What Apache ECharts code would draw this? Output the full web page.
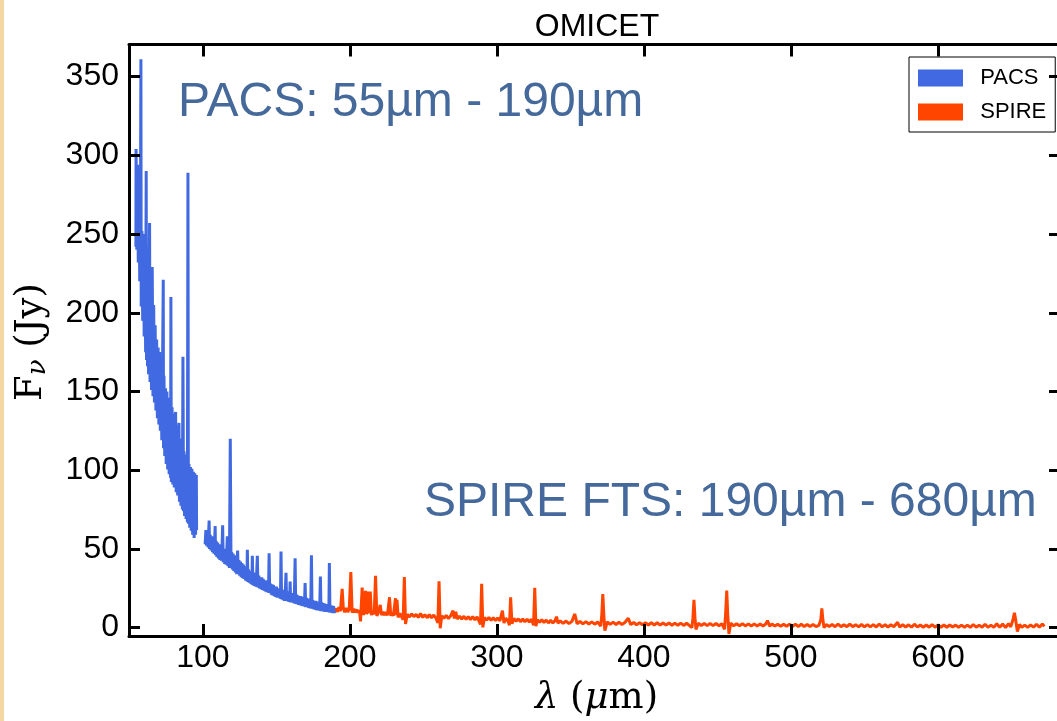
<!DOCTYPE html>
<html><head><meta charset="utf-8">
<script src="https://cdn.jsdelivr.net/npm/echarts@6/dist/echarts.min.js"></script>
<style>html,body{margin:0;padding:0;background:#fff}#c{width:1057px;height:721px}</style>
</head><body><div id="c"></div>
<script>
const chartTitle = 'OMICET';
const seriesNames = ['PACS', 'SPIRE'];
const seriesColors = ['#4169E1', '#FF4500'];
const xTicks = [100, 200, 300, 400, 500, 600];
const yTicks = [0, 50, 100, 150, 200, 250, 300, 350];
const xRange = [49.7, 683];
const yRange = [-5.3, 370.4];
const annotations = ['PACS: 55µm - 190µm', 'SPIRE FTS: 190µm - 680µm'];

// PACS spectrum [wavelength µm, flux Jy]
const pacsSpectrum = [
[54.4,242],[54.5,304],[55.0,240],[55.5,294],[56.0,232],[56.5,285],[57.0,220],[57.5,262],[57.8,361],[58.0,204],[58.5,252],[59.0,195],[59.5,250],[60.0,185],[60.5,244],[61.0,175],[61.4,290],[61.6,170],[62.0,238],[62.3,166],[62.7,230],[63.0,161],[63.4,226],[63.7,257],[64.0,156],[64.5,218],[65.0,151],[65.5,229],[66.0,147],[66.5,205],[67.0,143],[67.5,192],[68.0,138],[68.5,183],[69.0,133],[69.5,178],[70.0,129],[70.5,175],[71.0,125],[71.5,168],[72.0,119],[72.5,163],[73.0,221],[73.2,114],[73.5,160],[74.0,109],[74.5,152],[75.0,104],[75.5,150],[76.0,100.5],[76.5,146],[77.0,97.5],[77.5,143],[78.0,95],[78.2,210],[78.5,92.5],[79.0,140],[79.5,91],[80.0,136],[80.5,89],[81.0,131],[81.4,137],[81.8,86],[82.3,128],[82.8,84],[83.2,124],[83.7,130],[84.0,80],[84.5,120],[85.0,77.5],[85.5,117],[86.0,75],[86.4,172],[86.8,74],[87.1,112],[87.5,71],[88.0,110],[88.5,69],[89.0,107],[89.4,67],[89.8,289],[90.1,66],[90.5,104],[91.0,63.5],[91.5,102],[92.0,61.5],[92.5,101],[93.0,59],[93.5,99],[94.0,57],[94.5,98],[95.0,59],[95.5,97],[95.7,62],
[98,'-'],
[101.5,53],[102,62],[102.5,52],[103,61],[103.5,51],[104.2,68],[104.5,50],[105,59],[105.5,49],[106,58],[106.5,48],[107,57],[107.5,47],[108,56],[108.3,64.5],[108.6,46],[109,55],[109.5,45],[110,54],[110.5,44],[111,53],[111.5,43],[112,52],[112.5,42.5],[113,51],[113.4,65],[113.8,41.5],[114.3,50],[114.8,40.5],[115.3,50],[115.8,40],[116.2,49],[116.6,58],[117,39],[117.5,49],[118,38],[118.6,120],[119.1,38],[119.5,48],[120,37],[120.5,47],[121,36],[121.5,46],[122,35],[122.5,45],[123,34],[123.6,49],[124,34],[124.5,43],[125,33],[125.5,42],[126,32],[126.5,41],[127,31.5],[127.5,40],[128,31],[128.5,39],[129,30],[129.5,38],[129.9,29.5],[130.2,49.5],[130.6,29],[131,37],[131.5,28.5],[132,36],[132.5,28],[133,35.5],[133.3,27.5],[133.6,45.6],[134,27],[134.5,35],[135,26.5],[135.5,34],[136,26],[136.5,33.5],[137,45.6],[137.4,25.5],[138,33],[138.5,25],[139,32],[139.5,24.5],[140,32],[140.5,24],[141,31],[141.5,23.5],[142,30],[142.5,23],[143,30],[143.5,22.5],[144,29],[144.6,22.3],[145,47.3],[145.4,22],[146,28],[146.5,21],[147,27.5],[147.5,20.5],[148,27],[148.5,20],[149,26],[149.5,19.5],[150,26],[150.5,19],[151,25],[151.5,19],[152,25],[152.5,18.5],[152.8,24],[153.1,48.4],[153.5,18],[154,24],[154.5,17.5],[155,24],[155.5,17],[156,23],[156.5,34.8],[156.9,17],[157.5,23],[158,16.5],[158.5,22],[158.9,16.3],[159.3,29.3],[159.7,16],[160.2,22],[160.7,16],[161.2,21.5],[161.7,15.5],[162.2,21],[162.7,44],[163.1,15],[163.6,21],[164,15],[164.5,20.5],[165,14.5],[165.5,20],[166,14.3],[166.5,20],[167,14],[167.5,19.5],[168,13.7],[168.5,19.5],[169,13.5],[169.5,28.3],[169.9,13],[170.4,19],[170.9,13],[171.4,18.5],[171.9,12.5],[172.4,18],[172.9,12.2],[173.4,18],[173.8,46],[174.2,12],[174.7,17.5],[175.2,11.8],[175.7,17],[176.2,11.5],[176.7,17],[177.2,11.2],[177.7,16.5],[178.2,11],[178.7,16.3],[179.2,10.8],[179.5,16],[179.9,32.5],[180.3,10.5],[180.8,16],[181.3,10.5],[181.8,15.5],[182.3,10.2],[182.8,15.2],[183.3,10],[183.8,15],[184.3,10],[184.8,14.7],[185.3,9.8],[185.7,14.5],[186,41],[186.4,9.5],[186.9,14.2],[187.4,9.5],[187.9,14],[188.4,9.2],[188.9,13.7],[189.4,9.3],[189.7,12.5]
];

// SPIRE FTS spectrum [wavelength µm, flux Jy]
const spireSpectrum = [
[190.6,12.5],[191.5,10],[192.5,13],[193.5,10.5],[194.7,24.6],[195.5,12],[196.5,9.8],[197.5,12.5],[198.5,10],[199.5,11.5],[200.6,35.3],[201.5,9.5],[202.5,12],[203.5,9.8],[204.5,11.5],[205.5,9.5],[206.5,11],[207.2,4],[208.3,25.5],[209.2,8],[210.6,23.4],[211.3,8.5],[212.4,22.9],[213,9],[213.8,22.9],[214.6,8],[215.5,10.5],[216.5,8.5],[217.4,32.9],[218.3,7.5],[219.5,10],[220.6,14.5],[221.5,8],[222.5,10],[223.5,8],[224.5,9.8],[225.5,7.8],[226.9,19.3],[227.8,7.5],[228.5,9.5],[229.5,7.5],[231,18.7],[231.5,8],[232,17.6],[232.8,6.5],[234,9],[235,7],[236.2,5],[237,32.1],[237.8,2.3],[239,8.5],[240.5,6.8],[242,8.8],[243.5,7],[245,8.5],[246.5,6.5],[248,9],[249.5,6.5],[251,8.3],[252.5,6.3],[254,8.2],[255.5,6.3],[257,8],[258.5,6],[259.8,3],[260.6,29.5],[261.4,-0.4],[262.5,7.5],[264,6],[265.5,7.8],[267,5.8],[268.5,7.5],[270.1,10.8],[271,5.8],[272,10],[273,5.5],[274.5,7.3],[276,5.5],[277.5,7.2],[279,5.3],[280.5,7],[282,5.2],[283.5,7],[285,5],[286.5,6.8],[288.8,2],[289.6,27.8],[290.4,0.2],[291.5,6.5],[293,4.8],[294.5,6.5],[296,4.6],[297.5,6.3],[299,4.5],[300.5,6.2],[302,4.3],[303.7,10.8],[304.8,3],[306,6],[307.5,4.2],[308.5,1.5],[309.3,19.3],[310.2,2.5],[311.5,5.8],[313,4],[314.5,5.6],[316,3.8],[317.5,5.5],[319,3.7],[320.5,5.4],[322,3.6],[323.5,5.3],[324.9,1.5],[325.7,25.3],[326.5,1],[327.5,5],[329,3.4],[330.5,5],[332,3.3],[333.5,4.8],[335,3],[336.5,4.7],[338,3],[339.6,4.5],[340.5,7],[341.5,2.8],[343,4.3],[345,2.7],[347,4.2],[349,2.6],[351,4],[352.9,8.7],[354.5,2.5],[356.5,3.9],[358.5,2.4],[360.5,3.8],[362.5,2.3],[364.5,3.7],[366.5,2.2],[368.5,3.6],[370.6,1],[371.3,8],[372,21.3],[372.7,8],[373.4,-1.9],[375,3.6],[377,2.1],[379,3.5],[381,2],[383,3.4],[385,2],[387,3.3],[389.3,6],[391,1.9],[393,3.3],[395,1.8],[397,3.2],[399,1.8],[401,3.2],[403,1.7],[405,3.1],[407,1.7],[409,3.1],[411,1.6],[413,3],[415,1.6],[417,3],[419,1.5],[421,2.9],[423,1.5],[425,2.9],[427,1.4],[429,2.8],[431,1.3],[432.6,0],[433.3,6],[434,17.6],[434.7,6],[435.4,-1.1],[437,2.8],[439,1.4],[441,2.7],[443,1.3],[445,2.6],[447,1.3],[449,2.6],[451,1.2],[453,2.5],[454.8,-1],[455.5,8],[456.3,23.6],[457,8],[457.8,-4],[459,2.8],[461,1.2],[463,2.5],[465,1.2],[467,2.5],[469,1.1],[471,2.4],[473,1.1],[475,2.4],[477,1],[479,2.3],[481,1],[483,2.5],[484,4.5],[485.5,1],[487,2.3],[489,1],[491,2.2],[493,0.9],[495,2.2],[497,0.9],[499,2.2],[501,0.8],[503,2.1],[505,0.8],[507,2.1],[509,0.8],[511,2],[513,0.7],[515,2],[517,0.7],[519,1.5],[520.3,5],[521,12.3],[521.7,5],[522.5,0],[524,2],[526,0.7],[528,2],[530,0.6],[532,2.2],[534,0.6],[536,1.9],[538,0.6],[540,2.3],[542,0.6],[544,1.9],[546,0.5],[548,2],[550,0.5],[552,1.9],[554,0.5],[556,1.9],[558,0.4],[560,2.3],[562,0.5],[564,1.8],[566,0.4],[568,1.8],[570,0.6],[572.5,3.4],[574,0.4],[576,1.8],[578,0.4],[580,1.8],[582,0.3],[584,2.2],[586,0.4],[588,1.7],[590,0.3],[592,1.7],[594,0.3],[596,1.9],[598,0.3],[600,1.7],[602,0.3],[604,1.7],[606,0.3],[608,1.7],[610,0.4],[612,1.6],[614,0.3],[616,1.6],[618,0.3],[620,1.6],[622,0.2],[624,2],[626,0.3],[628,1.6],[630,0.2],[632,2.2],[634,0.2],[636,1.6],[638,0.2],[640,2.5],[642,0.3],[644,2.3],[646,0],[648,2.5],[649.5,0.5],[651,5],[652,9.5],[653,4],[654,-2.5],[655.5,2],[657,0.2],[659,1.6],[661,0.2],[663,1.8],[665,0.3],[667,2.2],[669,0.3],[671,2.4],[672.4,0.8]
];

const chart = echarts.init(document.getElementById('c'), null, {renderer: 'canvas'});
const SANS = 'Liberation Sans, Arial, sans-serif';
const SERIF = 'DejaVu Serif, Liberation Serif, serif';
const axisLineStyle = {color: '#000', width: 3};
function xAxisDef(pos, showLabel) {
  return {
    type: 'value', position: pos, min: xRange[0], max: xRange[1], z: 10,
    axisLine: {show: true, onZero: false, lineStyle: axisLineStyle},
    axisTick: {show: true, inside: true, length: 12, lineStyle: {color: '#000', width: 3}, customValues: xTicks},
    axisLabel: {show: showLabel, customValues: xTicks, margin: 6, fontSize: 32, color: '#000', fontFamily: SANS},
    splitLine: {show: false}
  };
}
function yAxisDef(pos, showLabel) {
  return {
    type: 'value', position: pos, min: yRange[0], max: yRange[1], z: 10,
    axisLine: {show: true, onZero: false, lineStyle: axisLineStyle},
    axisTick: {show: true, inside: true, length: 11, lineStyle: {color: '#000', width: 3}, customValues: yTicks},
    axisLabel: {show: showLabel, customValues: yTicks, margin: 10, fontSize: 32, color: '#000', fontFamily: SANS},
    splitLine: {show: false}
  };
}
const option = {
  animation: false,
  backgroundColor: '#fff',
  grid: {left: 129, top: 44.5, width: 931, height: 591.5, containLabel: false, outerBoundsMode: 'none'},
  xAxis: [xAxisDef('bottom', true), xAxisDef('top', false)],
  yAxis: [yAxisDef('left', true), yAxisDef('right', false)],
  legend: {
    left: 909, top: 57, orient: 'vertical', selectedMode: false,
    data: seriesNames.map(n => ({name: n, icon: 'rect'})),
    itemWidth: 45, itemHeight: 17, itemGap: 12,
    padding: [10, 9, 9, 9], borderColor: '#000', borderWidth: 1, backgroundColor: '#fff',
    formatter: n => '  ' + n,
    textStyle: {fontSize: 22, color: '#000', fontFamily: SANS, lineHeight: 17}
  },
  series: [
    {type: 'line', name: seriesNames[0], data: pacsSpectrum, xAxisIndex: 0, yAxisIndex: 0,
     showSymbol: false, symbol: 'none', connectNulls: false, color: seriesColors[0],
     itemStyle: {color: seriesColors[0]}, lineStyle: {color: seriesColors[0], width: 3}, z: 2},
    {type: 'line', name: seriesNames[1], data: spireSpectrum, xAxisIndex: 0, yAxisIndex: 0,
     showSymbol: false, symbol: 'none', color: seriesColors[1],
     itemStyle: {color: seriesColors[1]}, lineStyle: {color: seriesColors[1], width: 3}, z: 3}
  ],
  graphic: [
    {type: 'rect', shape: {x: 0, y: 0, width: 4, height: 721}, style: {fill: '#f6d6a4'}, z: 100},
    {type: 'text', x: 597, y: 27, z: 100, style: {text: chartTitle, fontSize: 32, fontFamily: SANS, fill: '#000', align: 'center', verticalAlign: 'middle'}},
    {type: 'text', x: 178, y: 103, z: 100, style: {text: annotations[0], fontSize: 48, fontFamily: SANS, fill: '#44699a', align: 'left', verticalAlign: 'middle'}},
    {type: 'text', x: 424, y: 503, z: 100, style: {text: annotations[1], fontSize: 48, fontFamily: SANS, fill: '#44699a', align: 'left', verticalAlign: 'middle'}},
    {type: 'text', x: 596.5, y: 698, z: 100, style: {
      text: '{i|λ}{r| (}{i|μ}{r|m)}', align: 'center', verticalAlign: 'middle', fill: '#000',
      rich: {i: {fontFamily: SERIF, fontStyle: 'italic', fontSize: 37, fill: '#000'}, r: {fontFamily: SERIF, fontSize: 37, fill: '#000'}}}},
    {type: 'text', x: 31, y: 342, rotation: Math.PI / 2, z: 100, style: {
      text: '{r|F}{s|ν}{r| (Jy)}', align: 'center', verticalAlign: 'middle', fill: '#000',
      rich: {r: {fontFamily: SERIF, fontSize: 37, lineHeight: 40, fill: '#000'}, s: {fontFamily: SERIF, fontStyle: 'italic', fontSize: 26, lineHeight: 12, verticalAlign: 'bottom', fill: '#000'}}}}
  ]
};
chart.setOption(option);
</script>
</body></html>
